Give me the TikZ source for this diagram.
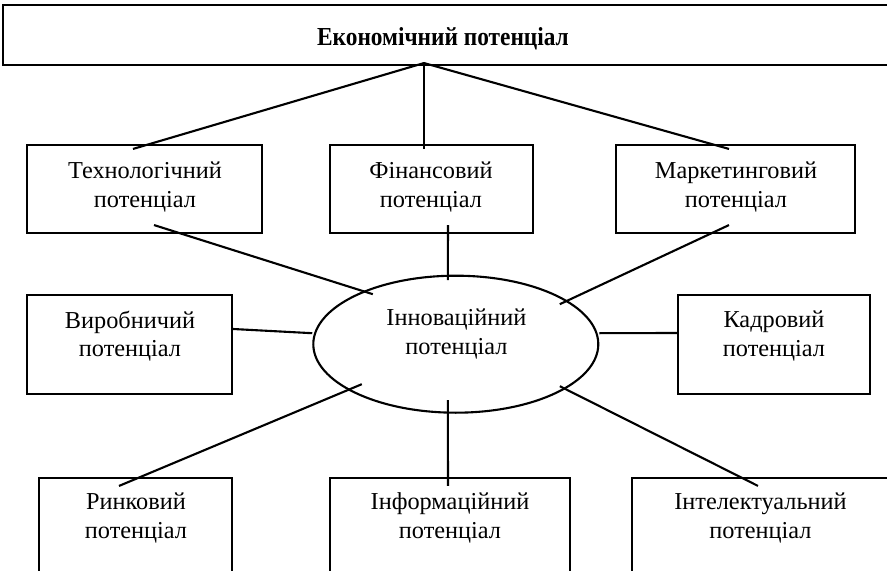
\documentclass[tikz,border=0pt]{standalone}
\usepackage{fontspec}
\setmainfont{Liberation Serif}
\newfontfamily\titlefont{Liberation Serif}[FakeStretch=0.9]
\usetikzlibrary{shapes.geometric,calc}
\tikzset{
    box/.style={draw,line width=1.3pt,rectangle,inner sep=0pt},
    sz/.style 2 args={minimum width=#1*0.617pt,minimum height=#2*0.617pt},
    txt/.style={align=center,inner sep=0pt,font=\fontsize{15}{17.6}\selectfont},
    link/.style={line width=1.3pt},
}
\begin{document}
\begin{tikzpicture}[x=0.617pt,y=-0.617pt]
    \clip(0,0)rectangle(887,571);
    \node[box,sz={892}{60}](econ)at(449,35){};
    \node[anchor=base,inner sep=0pt,font=\fontsize{16}{19}\titlefont\bfseries](econ-t)at(443,46){Економічний потенціал};

    \node[box,sz={235}{88}](tech)at(144.5,189){};
    \node[box,sz={203}{88}](fin)at(431.5,189){};
    \node[box,sz={239}{88}](mark)at(735.5,189){};
    \node[txt](tech-t)at(145,187){Технологічний\\потенціал};
    \node[txt](fin-t)at(431,187){Фінансовий\\потенціал};
    \node[txt](mark-t)at(736,187){Маркетинговий\\потенціал};

    \node[box,sz={205}{99}](vyr)at(129.5,344.5){};
    \node[box,sz={192}{99}](kadr)at(774,344.5){};
    \node[draw,ellipse,line width=1.3pt,inner sep=0pt,sz={285}{137}](innov)at(455.8,344.2){};
    \node[txt](vyr-t)at(130,336){Виробничий\\потенціал};
    \node[txt](kadr-t)at(774,336){Кадровий\\потенціал};
    \node[txt](innov-t)at(456.5,334){Інноваційний\\потенціал};

    \node[box,sz={193}{120}](rynk)at(135.5,538){};
    \node[box,sz={240}{120}](inform)at(450,538){};
    \node[box,sz={268}{120}](intel)at(766,538){};
    \node[txt](rynk-t)at(136,518){Ринковий\\потенціал};
    \node[txt](inform-t)at(450,518){Інформаційний\\потенціал};
    \node[txt](intel-t)at(760.5,518){Інтелектуальний\\потенціал};

    \coordinate(apex)at($(econ.south)+(-25,-3)$);
    \draw[link](apex)--($(tech.north)+(-11.5,5)$);
    \draw[link](apex)--($(fin.north)+(-7.5,5)$);
    \draw[link](apex)--($(mark.north)+(-6.5,5)$);

    \draw[link]($(tech.south)+(9.5,-9)$)--($(innov.center)+(-83,-50)$);
    \draw[link]($(fin.south)+(16.5,-9)$)--($(innov.center)+(-8,-64)$);
    \draw[link]($(mark.south)+(-6.5,-9)$)--($(innov.center)+(104,-40)$);
    \draw[link]($(vyr.east)+(0,-15.5)$)--($(innov.west)+(0,-11)$);
    \draw[link]($(kadr.west)+(0,-11.5)$)--($(innov.east)+(0,-11)$);
    \draw[link]($(innov.center)+(-94,40)$)--($(rynk.north)+(-16.5,9)$);
    \draw[link]($(innov.center)+(-8,56)$)--($(inform.north)+(-2,9)$);
    \draw[link]($(innov.center)+(104,42)$)--($(intel.north)+(-8,9)$);
\end{tikzpicture}
\end{document}
